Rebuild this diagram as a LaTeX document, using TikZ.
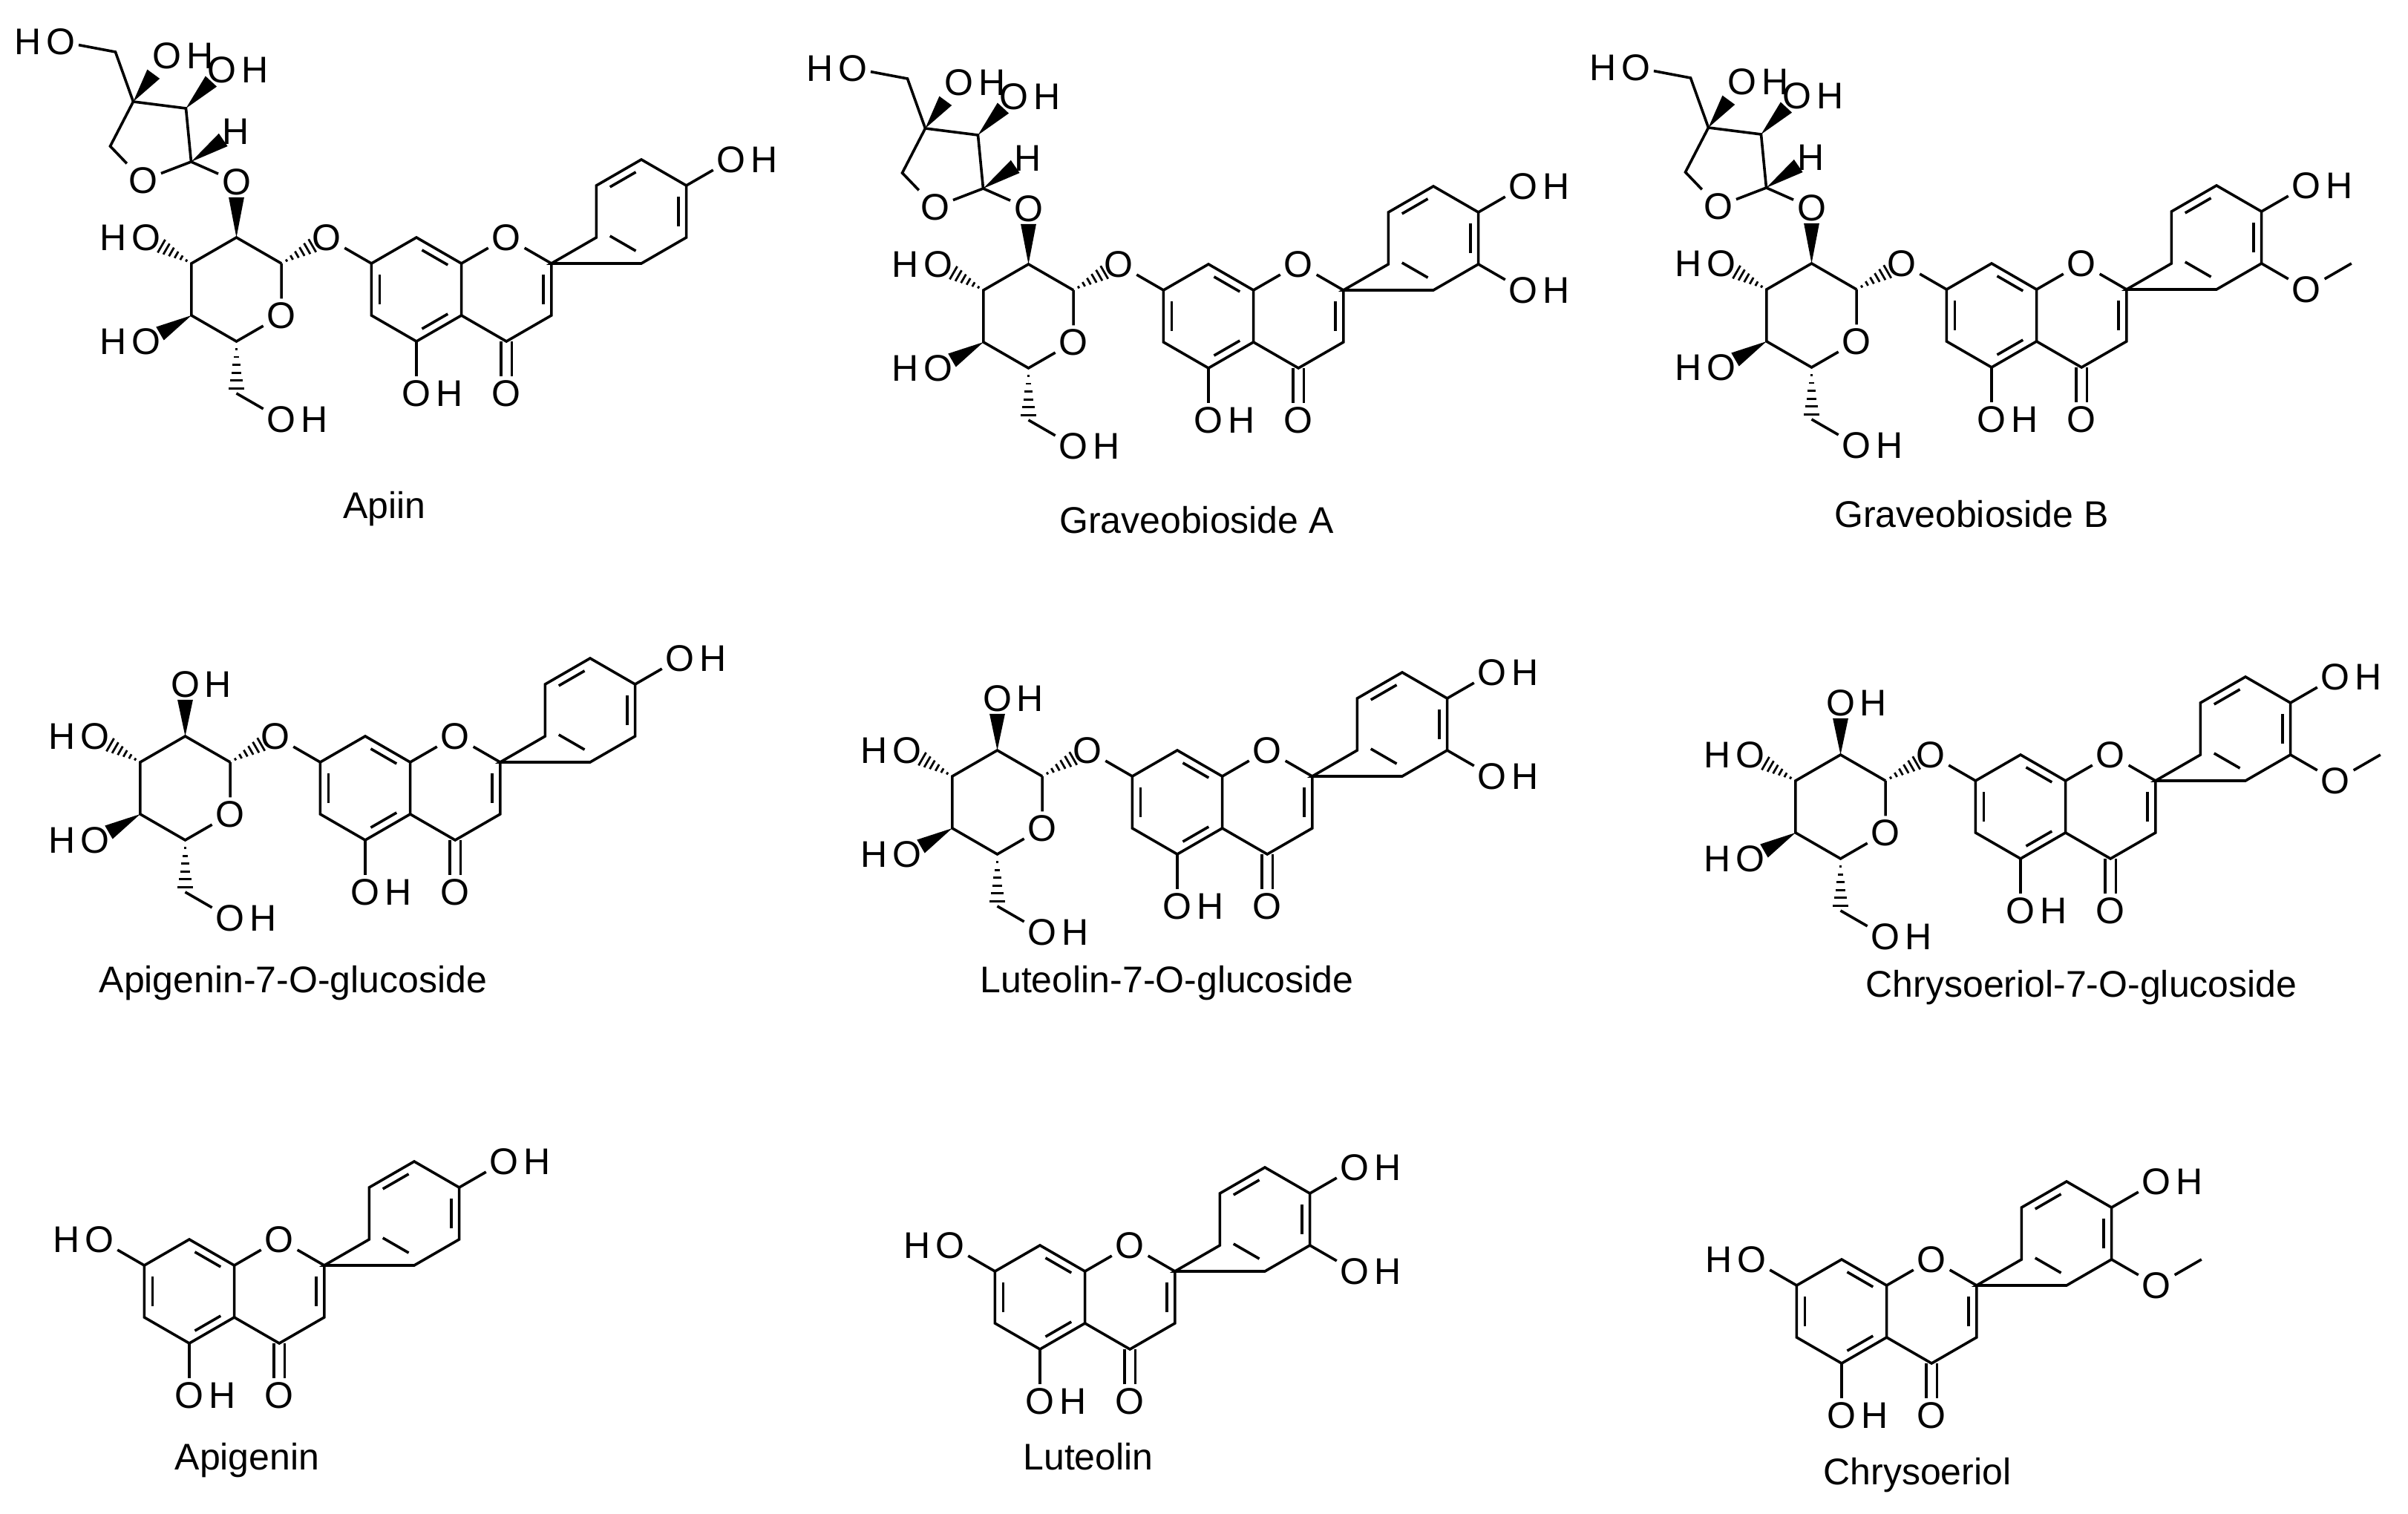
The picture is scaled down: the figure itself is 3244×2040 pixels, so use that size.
\documentclass[tikz,border=0pt]{standalone}
\usepackage{fontspec}
\setmainfont{Liberation Sans}
\usetikzlibrary{calc}
\newcommand\atomfont{\fontsize{12.5pt}{14pt}\selectfont}
\tikzset{atom/.style={inner sep=0.8pt,font=\atomfont},title/.style={inner sep=1pt,font=\atomfont}}
\newcommand\OH[2]{\node[atom] (#1) at (#2) {O}; \node[atom,inner sep=0pt,anchor=base west] (#1h) at (#1.base east) {H};}
\newcommand\HO[2]{\node[atom] (#1) at (#2) {O}; \node[atom,inner sep=0pt,anchor=base east] (#1h) at (#1.base west) {H};}
\newcommand\dbl[3]{\draw ($(#1)!.15!(#2)!.18!(#3)$) -- ($(#2)!.15!(#1)!.18!(#3)$);}
\newcommand\wdg[3]{\coordinate (wtip) at ($(#1)!#3!(#2)$); \fill ($(wtip)!2.6pt!90:(#1)$) -- (#1) -- ($(wtip)!2.6pt!-90:(#1)$) -- cycle;}
\newcommand\hsh[3]{\foreach \i in {1,...,6}{\coordinate (hp) at ($(#1)!{\i/6.3*#3}!(#2)$); \draw[line width=0.7pt] ($(hp)!{0.42pt*\i}!90:(#1)$) -- ($(hp)!{0.42pt*\i}!-90:(#1)$);}}
\newcommand\Flav[1]{%
 \coordinate (#1c8) at (0,-70); \coordinate (#1c8a) at (60.6,-35); \coordinate (#1c4a) at (60.6,35);
 \coordinate (#1c5) at (0,70); \coordinate (#1c6) at (-60.6,35); \coordinate (#1c7) at (-60.6,-35);
 \coordinate (#1A) at (0,0); \coordinate (#1C) at (121.2,0);
 \node[atom] (#1o1) at (121.2,-70) {O};
 \coordinate (#1c2) at (181.8,-35); \coordinate (#1c3) at (181.8,35); \coordinate (#1c4) at (121.2,70);
 \coordinate (#1b1) at (242.4,-70); \coordinate (#1b2) at (242.4,-140); \coordinate (#1b3) at (303,-175);
 \coordinate (#1b4) at (363.6,-140); \coordinate (#1b5) at (363.6,-70); \coordinate (#1b6) at (303,-35);
 \coordinate (#1B) at (303,-105);
 \draw (#1c8)--(#1c8a)--(#1c4a)--(#1c5)--(#1c6)--(#1c7)--cycle;
 \draw (#1c8a)--(#1o1)--(#1c2)--(#1c3)--(#1c4)--(#1c4a);
 \draw (#1c2)--(#1b1)--(#1b2)--(#1b3)--(#1b4)--(#1b5)--(#1b6)--cycle;
 \dbl{#1c8}{#1c8a}{#1A}\dbl{#1c4a}{#1c5}{#1A}\dbl{#1c6}{#1c7}{#1A}\dbl{#1c2}{#1c3}{#1C}
 \dbl{#1b2}{#1b3}{#1B}\dbl{#1b4}{#1b5}{#1B}\dbl{#1b6}{#1b1}{#1B}
 \OH{#1o5}{0,140} \draw (#1c5)--(#1o5);
 \node[atom] (#1o4) at (121.2,140) {O};
 \draw ([xshift=-1.8pt]#1c4) -- ([xshift=-1.8pt]#1o4.north) ([xshift=1.8pt]#1c4) -- ([xshift=1.8pt]#1o4.north);
 \OH{#1o4p}{424.2,-175} \draw (#1b4)--(#1o4p);
}
\newcommand\Cat[1]{\OH{#1o3p}{424.2,-35} \draw (#1b5)--(#1o3p);}
\newcommand\OMe[1]{\node[atom] (#1o3p) at (424.2,-35) {O}; \coordinate (#1me) at (484.8,-70); \draw (#1b5)--(#1o3p)--(#1me);}
\newcommand\Seven[1]{\HO{#1o7}{-121.2,-70} \draw (#1c7)--(#1o7);}
\newcommand\Glc[1]{%
 \coordinate (#1g2) at (-242.5,-70); \coordinate (#1g1) at (-181.9,-35); \node[atom] (#1gO) at (-181.9,35) {O};
 \coordinate (#1g5) at (-242.5,70); \coordinate (#1g4) at (-303.1,35); \coordinate (#1g3) at (-303.1,-35);
 \draw (#1g1)--(#1gO)--(#1g5)--(#1g4)--(#1g3)--(#1g2)--(#1g1);
 \node[atom] (#1o7) at (-121.2,-70) {O}; \draw (#1o7)--(#1c7); \hsh{#1g1}{#1o7}{.72}
 \HO{#1go3}{-363.7,-70} \hsh{#1g3}{#1go3}{.7}
 \HO{#1go4}{-363.7,70} \wdg{#1g4}{#1go4}{.7}
 \coordinate (#1ch2) at (-242.5,140); \hsh{#1g5}{#1ch2}{.95}
 \OH{#1go6}{-181.9,175} \draw (#1ch2)--(#1go6);
}
\newcommand\GlcOH[1]{\OH{#1go2}{-242.5,-140} \wdg{#1g2}{#1go2}{.7}}
\newcommand\Api[1]{%
 \node[atom] (#1ol) at (-242.5,-145) {O}; \wdg{#1g2}{#1ol}{.72}
 \coordinate (#1a1) at (-303.5,-172); \node[atom] (#1aO) at (-368.5,-147) {O};
 \coordinate (#1a4) at (-412.5,-193); \coordinate (#1a3) at (-381.5,-253); \coordinate (#1a2) at (-310.5,-244);
 \draw (#1ol)--(#1a1)--(#1aO)--(#1a4)--(#1a3)--(#1a2)--(#1a1);
 \node[atom] (#1aH) at (-243.5,-213) {H}; \wdg{#1a1}{#1aH}{.72}
 \OH{#1ao2}{-262,-296} \wdg{#1a2}{#1ao2}{.7}
 \OH{#1ao3}{-336,-315} \wdg{#1a3}{#1ao3}{.6}
 \coordinate (#1ach2) at (-405.5,-320); \HO{#1ao5}{-479.5,-334}
 \draw (#1a3)--(#1ach2)--(#1ao5);
}
\begin{document}
\begin{tikzpicture}[x=0.25pt,y=-0.25pt,line width=0.9pt]
\useasboundingbox[fill=white] (0,0) rectangle (3244,2040);
% Row 1
\begin{scope}[shift={(561,390)}] \Flav{p} \Glc{p} \Api{p} \end{scope}
\begin{scope}[shift={(1628,426)}] \Flav{q} \Cat{q} \Glc{q} \Api{q} \end{scope}
\begin{scope}[shift={(2683,425)}] \Flav{r} \OMe{r} \Glc{r} \Api{r} \end{scope}
% Row 2
\begin{scope}[shift={(492,1062)}] \Flav{s} \Glc{s} \GlcOH{s} \end{scope}
\begin{scope}[shift={(1586,1081)}] \Flav{t} \Cat{t} \Glc{t} \GlcOH{t} \end{scope}
\begin{scope}[shift={(2722,1087)}] \Flav{u} \OMe{u} \Glc{u} \GlcOH{u} \end{scope}
% Row 3
\begin{scope}[shift={(255,1740)}] \Flav{v} \Seven{v} \end{scope}
\begin{scope}[shift={(1401,1748)}] \Flav{w} \Cat{w} \Seven{w} \end{scope}
\begin{scope}[shift={(2481,1767)}] \Flav{x} \OMe{x} \Seven{x} \end{scope}
% titles
\node[title] (t1) at (518,686) {Apiin};
\node[title] (t2) at (1612,701) {Graveobioside A};
\node[title] (t3) at (2656,693) {Graveobioside B};
\node[title] (t4) at (395,1325) {Apigenin-7-O-glucoside};
\node[title] (t5) at (1572,1325) {Luteolin-7-O-glucoside};
\node[title] (t6) at (2804,1331) {Chrysoeriol-7-O-glucoside};
\node[title] (t7) at (333,1968) {Apigenin};
\node[title] (t8) at (1466,1963) {Luteolin};
\node[title] (t9) at (2583,1988) {Chrysoeriol};
\end{tikzpicture}
\end{document}
